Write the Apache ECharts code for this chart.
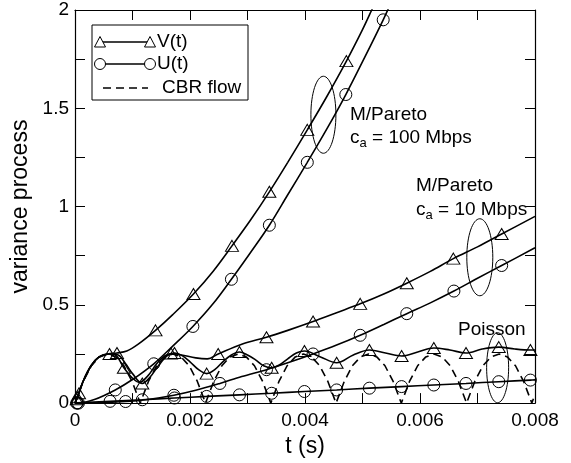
<!DOCTYPE html>
<html><head><meta charset="utf-8">
<script src="https://cdn.jsdelivr.net/npm/echarts@6/dist/echarts.min.js"></script>
<style>html,body{margin:0;padding:0;background:#fff}#c{width:571px;height:463px}</style>
</head><body><div id="c"></div>
<script>
// ---- data (times in milliseconds, plotted in seconds) ----
const xTickLabels = ['0', '0.002', '0.004', '0.006', '0.008'];
const yTickLabels = ['0', '0.5', '1', '1.5', '2'];

// CBR flow (dashed)
const cbrT = [0,0.142,0.284,0.426,0.568,0.709,0.851,0.993,
  1.135,1.277,1.419,1.561,1.703,1.844,1.986,2.128,
  2.27,2.412,2.554,2.696,2.838,2.979,3.121,3.263,
  3.405,3.547,3.689,3.831,3.973,4.114,4.256,4.398,
  4.54,4.682,4.824,4.966,5.108,5.249,5.391,5.533,
  5.675,5.817,5.959,6.101,6.243,6.384,6.526,6.668,
  6.81,6.952,7.094,7.236,7.378,7.519,7.661,7.803,
  7.945,8.0];
const cbrV = [0,0.11,0.19,0.235,0.25,0.235,0.19,0.11,
  0,0.11,0.19,0.235,0.25,0.235,0.19,0.11,
  0,0.11,0.19,0.235,0.25,0.235,0.19,0.11,
  0,0.11,0.19,0.235,0.25,0.235,0.19,0.11,
  0,0.11,0.19,0.235,0.25,0.235,0.19,0.11,
  0,0.11,0.19,0.235,0.25,0.235,0.19,0.11,
  0,0.11,0.19,0.235,0.25,0.235,0.19,0.11,
  0,0.045];

// V(t), M/Pareto c_a = 100 Mbps
const v100T = [0,0.07,0.14,0.28,0.42,0.57,0.73,0.9,1.1,1.4,1.7,2.06,2.4,2.73,3.05,3.38,3.7,4.04,4.38,4.72,5.0,5.16,5.3];
const v100V = [0,0.05,0.11,0.19,0.235,0.25,0.255,0.265,0.3,0.37,0.45,0.555,0.67,0.8,0.93,1.075,1.225,1.39,1.56,1.74,1.9,2.0,2.09];
const v100Marks = [0.07,0.73,1.4,2.06,2.73,3.38,4.04,4.72];

// U(t), M/Pareto c_a = 100 Mbps
const u100T = [0,0.03,0.35,0.7,1.0,1.37,1.7,2.05,2.4,2.72,3.05,3.38,3.7,4.04,4.38,4.71,5.04,5.36,5.5];
const u100V = [0,0.0,0.02,0.067,0.12,0.2,0.29,0.39,0.505,0.63,0.765,0.905,1.06,1.225,1.395,1.57,1.76,1.95,2.04];
const u100Marks = [0.03,0.7,1.37,2.05,2.72,3.38,4.04,4.71,5.36];

// V(t), M/Pareto c_a = 10 Mbps
const v10T = [0,0.03,0.14,0.28,0.42,0.57,0.7,0.85,0.99,1.12,1.27,1.42,1.56,1.67,1.85,2.1,2.3,2.49,2.9,3.33,3.7,4.14,4.55,4.96,5.37,5.77,6.18,6.58,7.0,7.42,8.0];
const v10V = [0,0.02,0.11,0.19,0.235,0.25,0.245,0.18,0.13,0.105,0.14,0.2,0.24,0.252,0.245,0.23,0.225,0.25,0.3,0.335,0.37,0.415,0.46,0.505,0.555,0.61,0.67,0.735,0.795,0.86,0.95];
const v10Marks = [0.03,0.85,1.67,2.49,3.33,4.14,4.96,5.77,6.58,7.42];

// U(t), M/Pareto c_a = 10 Mbps
const u10T = [0,0.06,0.88,1.3,1.72,2.1,2.52,2.9,3.33,3.7,4.14,4.55,4.96,5.37,5.77,6.18,6.59,7.0,7.42,8.0];
const u10V = [0,0.0,0.008,0.02,0.04,0.065,0.1,0.135,0.17,0.205,0.25,0.295,0.345,0.4,0.455,0.51,0.57,0.635,0.7,0.79];
const u10Marks = [0.06,0.88,1.72,2.52,3.33,4.14,4.96,5.77,6.59,7.42];

// V(t), Poisson
const vPoT = [0,0.04,0.14,0.28,0.42,0.6,0.75,0.88,1.0,1.17,1.3,1.45,1.6,1.73,1.87,2.0,2.15,2.29,2.43,2.57,2.72,2.86,3.0,3.14,3.28,3.42,3.56,3.7,3.85,3.99,4.27,4.55,4.84,5.12,5.4,5.68,5.96,6.24,6.52,6.8,7.08,7.37,7.65,7.92,8.0];
const vPoV = [0,0.03,0.11,0.19,0.235,0.25,0.245,0.2,0.15,0.1,0.13,0.19,0.24,0.255,0.24,0.21,0.17,0.15,0.17,0.21,0.245,0.26,0.245,0.22,0.19,0.18,0.195,0.225,0.255,0.265,0.235,0.205,0.245,0.27,0.255,0.24,0.26,0.28,0.27,0.255,0.275,0.285,0.275,0.27,0.27];
const vPoMarks = [0.04,0.6,1.17,1.73,2.29,2.86,3.42,3.99,4.55,5.12,5.68,6.24,6.8,7.37,7.92];

// U(t), Poisson
const uPoT = [0,0.04,0.61,1.17,1.73,2.29,2.86,3.42,3.99,4.55,5.12,5.68,6.24,6.8,7.37,7.92,8.0];
const uPoV = [0,0.001,0.009,0.017,0.026,0.034,0.042,0.05,0.059,0.067,0.076,0.084,0.092,0.1,0.109,0.117,0.118];
const uPoMarks = [0.04,0.61,1.17,1.73,2.29,2.86,3.42,3.99,4.55,5.12,5.68,6.24,6.8,7.37,7.92];

// ---- chart ----
const FONT = 'Liberation Sans, Arial, Helvetica, sans-serif';
const TRI = [13, 11], CIR = 12;

function mk(name, ts, vs, marks, symbol, size, dashed) {
  return {
    type: 'line', name: name,
    smooth: dashed ? false : 0.35,
    symbol: symbol || 'none', symbolSize: size || 1,
    showAllSymbol: true, clip: true, silent: true,
    data: ts.map((t, i) => ({
      value: [t / 1000, vs[i]],
      symbol: (marks && marks.includes(t)) ? symbol : 'none'
    })),
    lineStyle: { color: '#000', width: 1.6, type: dashed ? [8, 5] : 'solid' },
    itemStyle: { color: 'rgba(0,0,0,0)', borderColor: '#000', borderWidth: 1 }
  };
}

const chart = echarts.init(document.getElementById('c'), null, { renderer: 'canvas' });

const axisCommon = {
  type: 'value',
  axisLine: { show: true, onZero: false, lineStyle: { color: '#000', width: 1.2 } },
  axisTick: { show: true, inside: true, length: 10, lineStyle: { color: '#000', width: 1 } },
  minorTick: { show: true, splitNumber: 2, length: 10, lineStyle: { color: '#000', width: 1 } },
  splitLine: { show: false }
};

chart.setOption({
  animation: false,
  backgroundColor: '#fff',
  textStyle: { fontFamily: FONT },
  grid: { left: 75, right: 36, top: 10, bottom: 53, containLabel: false },
  xAxis: [
    Object.assign({}, axisCommon, {
      min: 0, max: 0.008, interval: 0.002, position: 'bottom',
      axisLabel: { fontSize: 19, color: '#000', margin: 8, fontFamily: FONT,
        formatter: v => xTickLabels[Math.round(v / 0.002)] },
      name: 't (s)', nameLocation: 'middle', nameGap: 20,
      nameTextStyle: { fontSize: 23, color: '#000', fontFamily: FONT }
    }),
    Object.assign({}, axisCommon, {
      min: 0, max: 0.008, interval: 0.002, position: 'top',
      axisLabel: { show: false }
    })
  ],
  yAxis: [
    Object.assign({}, axisCommon, {
      min: 0, max: 2, interval: 0.5, position: 'left',
      axisLabel: { fontSize: 19, color: '#000', margin: 6, fontFamily: FONT,
        formatter: v => yTickLabels[Math.round(v / 0.5)] },
      name: 'variance process', nameLocation: 'middle', nameGap: 31, nameRotate: 90,
      nameTextStyle: { fontSize: 23, color: '#000', fontFamily: FONT }
    }),
    Object.assign({}, axisCommon, {
      min: 0, max: 2, interval: 0.5, position: 'right',
      axisLabel: { show: false }
    })
  ],
  series: [
    mk('CBR flow', cbrT, cbrV, null, 'none', 1, true),
    mk('V(t)', v100T, v100V, v100Marks, 'triangle', TRI),
    mk('U(t)', u100T, u100V, u100Marks, 'circle', CIR),
    mk('V(t)', v10T, v10V, v10Marks, 'triangle', TRI),
    mk('U(t)', u10T, u10V, u10Marks, 'circle', CIR),
    mk('V(t)', vPoT, vPoV, vPoMarks, 'triangle', TRI),
    mk('U(t)', uPoT, uPoV, uPoMarks, 'circle', CIR)
  ]
});

// ---- annotations & legend ----
const px = (t, v) => chart.convertToPixel({ gridIndex: 0 }, [t / 1000, v]);
const e1 = px(4.32, 1.467), e2 = px(7.04, 0.742), e3 = px(7.35, 0.18);
const txt = (x, y, s, extra) => ({
  type: 'text', x: x, y: y, silent: true,
  style: Object.assign({ text: s, fill: '#000', fontSize: 19, fontFamily: FONT, verticalAlign: 'middle', align: 'left' }, extra || {})
});
const sub = { rich: { s: { fontSize: 13, fontFamily: FONT, fill: '#000', padding: [10, 0, 0, 0] } } };
const ell = (c, rx, ry) => ({
  type: 'ellipse', silent: true,
  shape: { cx: c[0], cy: c[1], rx: rx, ry: ry },
  style: { fill: 'none', stroke: '#000', lineWidth: 1 }
});
const tri = (x, y) => ({ type: 'polygon', silent: true,
  shape: { points: [[x, y - 5.5], [x - 5.5, y + 5], [x + 5.5, y + 5]] },
  style: { fill: '#fff', stroke: '#000', lineWidth: 1 } });
const cir = (x, y) => ({ type: 'circle', silent: true, shape: { cx: x, cy: y, r: 5.5 },
  style: { fill: '#fff', stroke: '#000', lineWidth: 1 } });
const seg = (x1, x2, y, dash) => ({ type: 'line', silent: true, shape: { x1: x1, y1: y, x2: x2, y2: y },
  style: { stroke: '#000', lineWidth: 1.6, lineDash: dash || null } });

chart.setOption({
  graphic: [
    ell(e1, 12.5, 38.5),
    ell(e2, 13, 38.5),
    ell(e3, 11, 35),
    txt(350, 115, 'M/Pareto'),
    txt(350, 138, 'c{s|a} = 100 Mbps', sub),
    txt(416, 186, 'M/Pareto'),
    txt(416, 210, 'c{s|a} = 10 Mbps', sub),
    txt(458, 330, 'Poisson'),
    // legend box
    { type: 'rect', silent: true, shape: { x: 92, y: 25, width: 156, height: 75 },
      style: { fill: '#fff', stroke: '#000', lineWidth: 1 } },
    seg(100, 150, 42), tri(100, 42), tri(150, 42), txt(157, 42, 'V(t)'),
    seg(100, 150, 64), cir(100, 64), cir(150, 64), txt(157, 64, 'U(t)'),
    seg(103, 148, 88, [8, 5]), txt(162, 88, 'CBR flow')
  ]
});
</script>
</body></html>
